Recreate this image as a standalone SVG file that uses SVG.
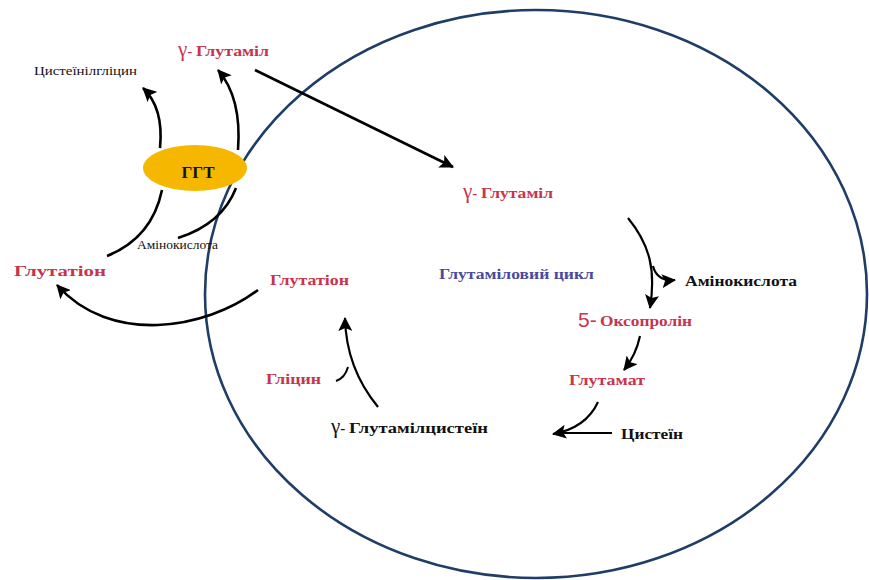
<svg xmlns="http://www.w3.org/2000/svg" width="869" height="580" viewBox="0 0 869 580">
<defs>
<marker id="ah" markerUnits="userSpaceOnUse" markerWidth="16" markerHeight="14" refX="13" refY="7" orient="auto">
<path d="M0,0 L14,7 L0,14 L3,7 Z" fill="#000"/>
</marker>
<style>
text{font-family:"Liberation Serif","Times New Roman","DejaVu Serif",serif}
.t{font-weight:bold;font-size:15px}
.red{fill:#c8344c}
.blk{fill:#111}
.blue{fill:#4a4a9c}
.g{font-size:21px;font-weight:normal}
.c{fill:none;stroke:#000;stroke-width:2.6}
.cm{marker-end:url(#ah)}
</style>
</defs>
<rect width="869" height="580" fill="#fff"/>
<g id="cell">
<ellipse cx="536" cy="294" rx="331" ry="284" fill="none" stroke="#1f3d66" stroke-width="2.6"/>
</g>
<g id="ggt">
<ellipse cx="195" cy="168" rx="52" ry="23" fill="#f5b700"/>
<text x="198" y="178" text-anchor="middle" class="t blk" font-family="Liberation Serif" style="font-size:17px">ГГТ</text>
</g>
<g id="connectors">
<path class="c cm" d="M255,70 L453,167"/>
<path class="c cm" d="M160,148 Q164,108 143,88"/>
<path class="c cm" d="M238,150 Q242,98 218,70"/>
<path class="c" d="M107,256 Q152,238 162,190"/>
<path class="c" d="M178,238 Q222,224 236,188"/>
<path class="c cm" d="M258,290 C205,330 110,345 57,285"/>
<path class="c cm" d="M628,218 C650,245 656,270 650,308" style="stroke-width:2.2"/>
<path class="c cm" d="M653,266 C656,278 664,281 675,280" style="stroke-width:2.2"/>
<path class="c cm" d="M640,336 Q636,355 624,370" style="stroke-width:2.2"/>
<path class="c cm" d="M598,402 Q586,428 553,434" style="stroke-width:2.2"/>
<path class="c" d="M612,433 L562,433" style="stroke-width:2"/>
<path class="c cm" d="M378,407 Q346,368 345,318" style="stroke-width:2.2"/>
<path class="c" d="M336,381 Q345,378 348,367" style="stroke-width:2"/>
</g>
<g id="n-cysgly"><text x="34" y="75" style="font-size:13.5px" class="blk" textLength="103" lengthAdjust="spacingAndGlyphs">Цистеїнілгліцин</text></g>
<g id="n-gglu-out"><text x="178" y="56" class="t red"><tspan class="g">γ</tspan>- <tspan textLength="73" lengthAdjust="spacingAndGlyphs">Глутаміл</tspan></text></g>
<g id="n-amino-out"><text x="137" y="249" style="font-size:12.5px" class="blk" textLength="81" lengthAdjust="spacingAndGlyphs">Амінокислота</text></g>
<g id="n-gsh-out"><text x="14" y="276" class="t red" textLength="92" lengthAdjust="spacingAndGlyphs">Глутатіон</text></g>
<g id="n-gglu-in"><text x="463" y="198" class="t red"><tspan class="g">γ</tspan>- <tspan textLength="72" lengthAdjust="spacingAndGlyphs">Глутаміл</tspan></text></g>
<g id="n-cycle"><text x="439" y="279" class="t blue" textLength="155" lengthAdjust="spacingAndGlyphs">Глутаміловий цикл</text></g>
<g id="n-gsh-in"><text x="270" y="285" class="t red" textLength="79" lengthAdjust="spacingAndGlyphs">Глутатіон</text></g>
<g id="n-amino-in"><text x="685" y="286" class="t blk" textLength="112" lengthAdjust="spacingAndGlyphs">Амінокислота</text></g>
<g id="n-oxo"><text x="578" y="327" class="red" style="font-family:'Liberation Sans',sans-serif;font-size:21px">5-</text><text x="600" y="326" class="t red" textLength="92" lengthAdjust="spacingAndGlyphs">Оксопролін</text></g>
<g id="n-glu"><text x="569" y="385" class="t red" textLength="76" lengthAdjust="spacingAndGlyphs">Глутамат</text></g>
<g id="n-gly"><text x="266" y="384" class="t red" textLength="55" lengthAdjust="spacingAndGlyphs">Гліцин</text></g>
<g id="n-gglucys"><text x="331" y="433" class="t blk"><tspan class="g">γ</tspan>- <tspan textLength="139" lengthAdjust="spacingAndGlyphs">Глутамілцистеїн</tspan></text></g>
<g id="n-cys"><text x="621" y="439" class="t blk" textLength="62" lengthAdjust="spacingAndGlyphs">Цистеїн</text></g>
</svg>
